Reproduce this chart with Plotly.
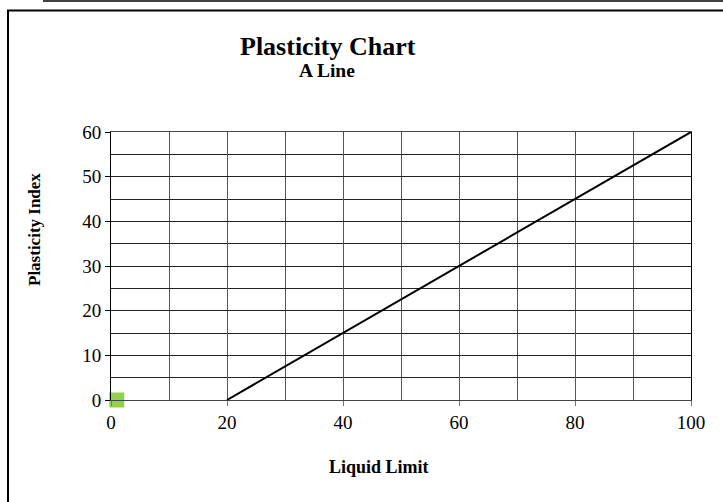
import plotly.graph_objects as go

# A-line data
a_line_ll = [20, 100]
a_line_pi = [0, 60]
# sample point
sample_ll = [1]
sample_pi = [0]

W, H = 723, 502
L, R, T, B = 111, 32, 132, 102
PW, PH = W - L - R, H - T - B

def px(x):
    return (x - L) / PW

def py(y):
    return (H - B - y) / PH

font = "Liberation Serif, Times New Roman, serif"

fig = go.Figure()
fig.add_trace(go.Scatter(x=a_line_ll, y=a_line_pi, mode="lines",
                         line=dict(color="black", width=2), showlegend=False, cliponaxis=False))
fig.add_trace(go.Scatter(x=sample_ll, y=sample_pi, mode="markers",
                         marker=dict(symbol="square", size=15, color="#92D050"),
                         showlegend=False, cliponaxis=False))

fig.update_layout(
    width=W, height=H,
    margin=dict(l=L, r=R, t=T, b=B),
    paper_bgcolor="white", plot_bgcolor="white",
    font=dict(family=font, color="black", size=19),
    xaxis=dict(range=[0, 100], dtick=20, tick0=0, showgrid=True, gridcolor="#555", gridwidth=1,
               minor=dict(dtick=10, showgrid=True, gridcolor="#555", gridwidth=1),
               ticks="outside", ticklen=5, tickcolor="#777", showline=True, linecolor="#444",
               linewidth=1, mirror=True, zeroline=False,
               tickfont=dict(size=19, family=font, color="black")),
    yaxis=dict(range=[0, 60], dtick=10, tick0=0, showgrid=True, gridcolor="#222", gridwidth=1,
               minor=dict(dtick=5, showgrid=True, gridcolor="#222", gridwidth=1),
               ticks="outside", ticklen=5, tickcolor="black", showline=True, linecolor="black",
               linewidth=1, mirror=True, zeroline=False,
               tickfont=dict(size=19, family=font, color="black")),
    annotations=[
        dict(text="<b>Plasticity Chart</b>", x=px(328), y=py(46), xref="paper", yref="paper",
             showarrow=False, font=dict(size=26, family=font), xanchor="center", yanchor="middle"),
        dict(text="<b>A Line</b>", x=px(327), y=py(71), xref="paper", yref="paper",
             showarrow=False, font=dict(size=19.5, family=font), xanchor="center", yanchor="middle"),
        dict(text="<b>Liquid Limit</b>", x=px(379), y=py(467), xref="paper", yref="paper",
             showarrow=False, font=dict(size=18, family=font), xanchor="center", yanchor="middle"),
        dict(text="<b>Plasticity Index</b>", x=px(34), y=py(230), xref="paper", yref="paper",
             showarrow=False, font=dict(size=17, family=font), textangle=-90,
             xanchor="center", yanchor="middle"),
    ],
    shapes=[
        dict(type="line", xref="paper", yref="paper", x0=px(43), x1=px(730), y0=py(1), y1=py(1),
             line=dict(color="black", width=1.5)),
        dict(type="rect", xref="paper", yref="paper", x0=px(8), x1=px(740), y0=py(10.5), y1=py(520),
             line=dict(color="black", width=2), fillcolor="rgba(0,0,0,0)", layer="below"),
    ],
)
fig.write_html("out.html")
